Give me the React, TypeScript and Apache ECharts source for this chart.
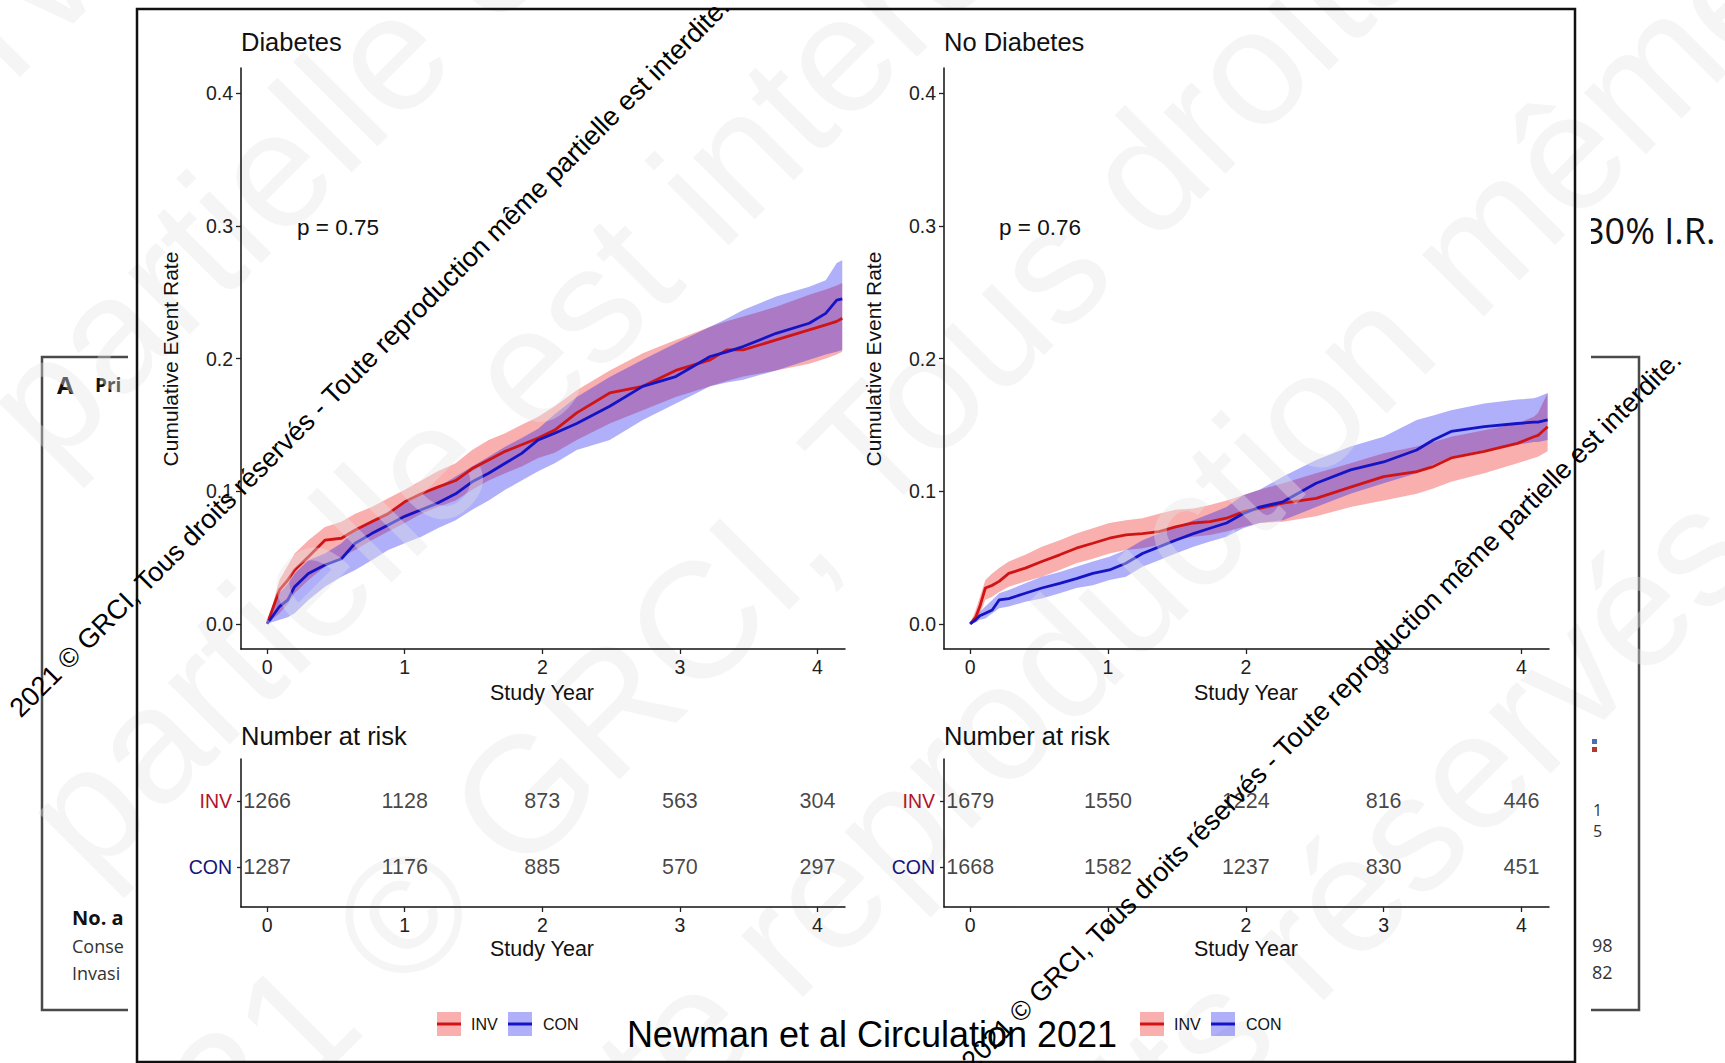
import React, { useEffect, useRef } from 'react';
import * as echarts from 'echarts';

const FONT = 'Liberation Sans, Arial, sans-serif';
const SLIDE_FONT = 'Open Sans, Liberation Sans, sans-serif';

// ---------- Diabetes panel (years, cumulative event rate) ----------
const yearsDiab = [0, 0.09, 0.15, 0.2, 0.3, 0.42, 0.54, 0.64, 0.76, 0.88, 1.0, 1.12, 1.24, 1.37, 1.49, 1.61, 1.73, 1.85, 1.97, 2.09, 2.25, 2.49, 2.73, 2.97, 3.22, 3.34, 3.46, 3.7, 3.94, 4.06, 4.14, 4.18];
const invDiab = [0, 0.0255, 0.033, 0.0406, 0.0506, 0.063, 0.0645, 0.0707, 0.077, 0.083, 0.092, 0.098, 0.103, 0.108, 0.117, 0.1235, 0.13, 0.135, 0.14, 0.146, 0.159, 0.174, 0.179, 0.191, 0.199, 0.2065, 0.2065, 0.214, 0.2216, 0.2253, 0.228, 0.2304];
const invDiabHi = [0, 0.033, 0.044, 0.053, 0.063, 0.073, 0.077, 0.083, 0.088, 0.0946, 0.101, 0.108, 0.115, 0.121, 0.131, 0.1386, 0.1437, 0.15, 0.156, 0.164, 0.176, 0.191, 0.204, 0.214, 0.224, 0.228, 0.2316, 0.239, 0.248, 0.252, 0.255, 0.257];
const invDiabLo = [0, 0.008, 0.015, 0.023, 0.033, 0.043, 0.0506, 0.0557, 0.063, 0.0695, 0.076, 0.083, 0.088, 0.093, 0.101, 0.108, 0.1135, 0.1185, 0.125, 0.129, 0.1386, 0.151, 0.161, 0.171, 0.179, 0.183, 0.1864, 0.191, 0.196, 0.2, 0.203, 0.205];
const conDiab = [0, 0.013, 0.018, 0.028, 0.038, 0.0443, 0.049, 0.0607, 0.068, 0.0745, 0.081, 0.086, 0.091, 0.098, 0.107, 0.1135, 0.121, 0.1285, 0.1386, 0.1437, 0.151, 0.164, 0.179, 0.1864, 0.2015, 0.205, 0.209, 0.219, 0.2266, 0.234, 0.244, 0.245];
const conDiabHi = [0, 0.023, 0.03, 0.038, 0.048, 0.053, 0.0607, 0.0707, 0.078, 0.0845, 0.091, 0.097, 0.103, 0.111, 0.1185, 0.126, 0.1335, 0.14, 0.147, 0.158, 0.171, 0.186, 0.199, 0.2115, 0.224, 0.23, 0.2366, 0.2467, 0.254, 0.259, 0.272, 0.274];
const conDiabLo = [0, 0.003, 0.005, 0.008, 0.018, 0.028, 0.0355, 0.0406, 0.048, 0.0557, 0.0607, 0.0657, 0.072, 0.078, 0.086, 0.093, 0.101, 0.108, 0.115, 0.121, 0.131, 0.1386, 0.1537, 0.166, 0.179, 0.182, 0.184, 0.191, 0.199, 0.203, 0.205, 0.2065];

// ---------- No Diabetes panel ----------
const yearsNoDiab = [0, 0.04, 0.07, 0.11, 0.16, 0.21, 0.28, 0.4, 0.52, 0.65, 0.77, 0.89, 1.01, 1.13, 1.25, 1.37, 1.49, 1.62, 1.74, 1.86, 1.98, 2.1, 2.27, 2.51, 2.76, 3.0, 3.24, 3.36, 3.49, 3.73, 3.97, 4.09, 4.12, 4.19];
const invNoDiab = [0, 0.005, 0.013, 0.027, 0.029, 0.032, 0.038, 0.042, 0.047, 0.052, 0.057, 0.0607, 0.0645, 0.067, 0.068, 0.0695, 0.073, 0.076, 0.077, 0.0796, 0.0845, 0.087, 0.091, 0.0946, 0.103, 0.111, 0.1147, 0.1185, 0.125, 0.13, 0.136, 0.141, 0.142, 0.1486];
const invNoDiabHi = [0, 0.0104, 0.02, 0.033, 0.038, 0.042, 0.047, 0.052, 0.058, 0.063, 0.068, 0.072, 0.076, 0.078, 0.0796, 0.083, 0.086, 0.087, 0.0896, 0.093, 0.097, 0.101, 0.106, 0.1135, 0.121, 0.1286, 0.1336, 0.137, 0.141, 0.146, 0.151, 0.156, 0.159, 0.174];
const invNoDiabLo = [0, 0.002, 0.008, 0.018, 0.0204, 0.024, 0.028, 0.0318, 0.0355, 0.0406, 0.0456, 0.049, 0.053, 0.0557, 0.057, 0.0594, 0.063, 0.0657, 0.067, 0.0695, 0.073, 0.076, 0.077, 0.081, 0.088, 0.093, 0.098, 0.102, 0.107, 0.1135, 0.121, 0.125, 0.126, 0.13];
const conNoDiab = [0, 0.003, 0.006, 0.008, 0.0104, 0.018, 0.019, 0.023, 0.027, 0.0305, 0.034, 0.038, 0.0406, 0.0456, 0.053, 0.058, 0.063, 0.068, 0.072, 0.076, 0.083, 0.088, 0.092, 0.106, 0.116, 0.122, 0.131, 0.1386, 0.145, 0.1486, 0.151, 0.152, 0.152, 0.1537];
const conNoDiabHi = [0, 0.004, 0.009, 0.013, 0.018, 0.023, 0.0255, 0.0305, 0.0355, 0.039, 0.043, 0.047, 0.0506, 0.0557, 0.063, 0.068, 0.073, 0.078, 0.083, 0.088, 0.097, 0.101, 0.111, 0.1235, 0.1336, 0.141, 0.1537, 0.157, 0.161, 0.166, 0.169, 0.17, 0.171, 0.174];
const conNoDiabLo = [0, 0.001, 0.003, 0.004, 0.008, 0.0117, 0.013, 0.0167, 0.019, 0.023, 0.027, 0.029, 0.033, 0.0355, 0.043, 0.048, 0.053, 0.058, 0.062, 0.0657, 0.072, 0.076, 0.078, 0.088, 0.098, 0.106, 0.1135, 0.12, 0.126, 0.131, 0.135, 0.137, 0.137, 0.1386];

// ---------- Number at risk ----------
const riskYears = [0, 1, 2, 3, 4];
const riskDiabInv = [1266, 1128, 873, 563, 304];
const riskDiabCon = [1287, 1176, 885, 570, 297];
const riskNoDiabInv = [1679, 1550, 1224, 816, 446];
const riskNoDiabCon = [1668, 1582, 1237, 830, 451];

// ---------- Ticks and labels ----------
const xTicks = [0, 1, 2, 3, 4];
const yTicks = [0, 0.1, 0.2, 0.3, 0.4];
const riskRowTicks = [0, 1]; // 0 = CON, 1 = INV
const panelTitles = ['Diabetes', 'No Diabetes'];
const pValues = ['p = 0.75', 'p = 0.76'];
const groupNames = ['INV', 'CON'];
const WATERMARK = '2021 © GRCI, Tous droits réservés - Toute reproduction même partielle est interdite.';

const INV_LINE = '#D01414';
const CON_LINE = '#1414C4';
const INV_BAND = 'rgba(240,20,20,0.34)';
const CON_BAND = 'rgba(20,20,240,0.34)';

const PANEL_DX = 703;

function bandSeries(name: string, axisIdx: number, xs: number[], lo: number[], hi: number[], color: string) {
  return {
    type: 'custom',
    name,
    xAxisIndex: axisIdx,
    yAxisIndex: axisIdx,
    z: 2,
    silent: true,
    data: xs.map((x, i) => [x, lo[i], hi[i]]),
    encode: { x: 0, y: [1, 2] },
    renderItem: (params: any, api: any) => {
      if (params.dataIndexInside !== 0) return null;
      const n = params.dataInsideLength;
      const top: number[][] = [];
      const bot: number[][] = [];
      for (let j = 0; j < n; j++) {
        top.push(api.coord([api.value(0, j), api.value(2, j)]));
        bot.push(api.coord([api.value(0, j), api.value(1, j)]));
      }
      return {
        type: 'polygon',
        shape: { points: top.concat(bot.reverse()) },
        style: { fill: color },
      };
    },
  };
}

function lineSeries(name: string, axisIdx: number, xs: number[], ys: number[], color: string) {
  return {
    type: 'line',
    name,
    xAxisIndex: axisIdx,
    yAxisIndex: axisIdx,
    z: 2,
    silent: true,
    showSymbol: false,
    symbol: 'none',
    data: xs.map((x, i) => [x, ys[i]]),
    lineStyle: { color, width: 2.8 },
  };
}

function riskSeries(axisIdx: number, row: number, vals: number[]) {
  return {
    type: 'scatter',
    xAxisIndex: axisIdx,
    yAxisIndex: axisIdx,
    z: 6,
    silent: true,
    symbolSize: 2,
    itemStyle: { color: 'rgba(0,0,0,0)' },
    data: riskYears.map((x, i) => [x, row, vals[i]]),
    label: {
      show: true,
      position: 'inside',
      formatter: (p: any) => String(p.value[2]),
      fontSize: 21.5,
      color: '#151515',
      fontFamily: FONT,
    },
  };
}

function txt(text: string, x: number, y: number, o: any = {}) {
  const align = o.align || 'left';
  const valign = o.valign || 'middle';
  return {
    type: 'text',
    x,
    y,
    z: o.z ?? 7,
    rotation: o.rotation || 0,
    silent: true,
    style: {
      text,
      fill: o.fill || '#111',
      fontSize: o.size || 20,
      fontFamily: o.family || FONT,
      fontWeight: o.weight || 'normal',
      align,
      verticalAlign: valign,
      textAlign: align,
      textVerticalAlign: valign,
    },
  };
}

const axisLineStyle = { show: true, onZero: false, lineStyle: { color: '#111', width: 1.5 } };
const tickStyle = (vals: number[], len = 5) => ({
  show: true,
  customValues: vals,
  length: len,
  inside: false,
  lineStyle: { color: '#222', width: 1.3 },
});

function buildOption() {
  const grids = [
    { left: 241, top: 68, width: 604, height: 581 },
    { left: 944, top: 68, width: 605, height: 581 },
    { left: 241, top: 759, width: 604, height: 148 },
    { left: 944, top: 759, width: 605, height: 148 },
  ];

  const xAxis = grids.map((_, g) => ({
    type: 'value',
    gridIndex: g,
    min: -0.19,
    max: 4.2,
    z: 6,
    axisLine: axisLineStyle,
    axisTick: tickStyle(xTicks),
    axisLabel: {
      customValues: xTicks,
      fontSize: 19.5,
      color: '#222',
      margin: 8,
      fontFamily: FONT,
    },
    splitLine: { show: false },
  }));

  const yAxis = grids.map((_, g) =>
    g < 2
      ? {
          type: 'value',
          gridIndex: g,
          min: -0.019,
          max: 0.419,
          z: 6,
          axisLine: axisLineStyle,
          axisTick: tickStyle(yTicks),
          axisLabel: {
            customValues: yTicks,
            formatter: (v: number) => v.toFixed(1),
            fontSize: 19.5,
            color: '#222',
            margin: 8,
            fontFamily: FONT,
          },
          splitLine: { show: false },
        }
      : {
          type: 'value',
          gridIndex: g,
          min: -0.606,
          max: 1.636,
          z: 6,
          axisLine: axisLineStyle,
          axisTick: tickStyle(riskRowTicks, 4),
          axisLabel: {
            customValues: riskRowTicks,
            formatter: (v: number) => (v >= 0.5 ? '{inv|' + groupNames[0] + '}' : '{con|' + groupNames[1] + '}'),
            margin: 9,
            rich: {
              inv: { color: '#B0142C', fontSize: 19.5, fontFamily: FONT },
              con: { color: '#141478', fontSize: 19.5, fontFamily: FONT },
            },
          },
          splitLine: { show: false },
        }
  );

  const series: any[] = [
    bandSeries('INV band', 0, yearsDiab, invDiabLo, invDiabHi, INV_BAND),
    lineSeries('INV', 0, yearsDiab, invDiab, INV_LINE),
    bandSeries('CON band', 0, yearsDiab, conDiabLo, conDiabHi, CON_BAND),
    lineSeries('CON', 0, yearsDiab, conDiab, CON_LINE),
    bandSeries('INV band', 1, yearsNoDiab, invNoDiabLo, invNoDiabHi, INV_BAND),
    lineSeries('INV', 1, yearsNoDiab, invNoDiab, INV_LINE),
    bandSeries('CON band', 1, yearsNoDiab, conNoDiabLo, conNoDiabHi, CON_BAND),
    lineSeries('CON', 1, yearsNoDiab, conNoDiab, CON_LINE),
    riskSeries(2, 1, riskDiabInv),
    riskSeries(2, 0, riskDiabCon),
    riskSeries(3, 1, riskNoDiabInv),
    riskSeries(3, 0, riskNoDiabCon),
  ];

  const g: any[] = [];

  // ---- background slide (behind the figure) ----
  g.push({ type: 'rect', z: 0, silent: true, shape: { x: 42, y: 357, width: 200, height: 653 }, style: { fill: '#fff', stroke: '#4a4a4a', lineWidth: 2.5 } });
  g.push(txt('A', 57, 384, { size: 24, weight: 'bold', family: SLIDE_FONT, z: 0, fill: '#111' }));
  g.push(txt('Pri', 95, 385, { size: 19, weight: 'bold', family: SLIDE_FONT, z: 0, fill: '#111' }));
  g.push(txt('No. a', 72, 917, { size: 20, weight: 'bold', family: SLIDE_FONT, z: 0, fill: '#111' }));
  g.push(txt('Conse', 72, 946, { size: 18, family: SLIDE_FONT, z: 0, fill: '#333' }));
  g.push(txt('Invasi', 72, 973, { size: 18, family: SLIDE_FONT, z: 0, fill: '#333' }));
  g.push({ type: 'rect', z: 0, silent: true, shape: { x: 1540, y: 357, width: 99, height: 653 }, style: { fill: '#fff', stroke: '#4a4a4a', lineWidth: 2.5 } });
  g.push(txt('30% I.R.', 1584, 230, { size: 36, family: SLIDE_FONT, z: 0, fill: '#111' }));
  g.push(txt('1', 1593, 810, { size: 16, family: SLIDE_FONT, z: 0, fill: '#333' }));
  g.push(txt('5', 1593, 831, { size: 16, family: SLIDE_FONT, z: 0, fill: '#333' }));
  g.push(txt('98', 1592, 945, { size: 18, family: SLIDE_FONT, z: 0, fill: '#333' }));
  g.push(txt('82', 1592, 972, { size: 18, family: SLIDE_FONT, z: 0, fill: '#333' }));
  g.push({ type: 'rect', z: 0, silent: true, shape: { x: 1592, y: 739, width: 5, height: 5 }, style: { fill: '#4a6fb0' } });
  g.push({ type: 'rect', z: 0, silent: true, shape: { x: 1592, y: 747, width: 5, height: 5 }, style: { fill: '#b03a2e' } });

  // ---- white figure area and its frame ----
  g.push({ type: 'rect', z: 1, silent: true, shape: { x: 128, y: 0, width: 1463, height: 1063 }, style: { fill: '#fff' } });
  g.push({ type: 'rect', z: 7, silent: true, shape: { x: 137, y: 9, width: 1438, height: 1053 }, style: { fill: 'none', stroke: '#111', lineWidth: 2.5 } });

  // ---- panel texts ----
  [0, 1].forEach((k) => {
    const dx = k * PANEL_DX;
    g.push(txt(panelTitles[k], 241 + dx, 42, { size: 25.5 }));
    g.push(txt('Cumulative Event Rate', 170 + dx, 359, { size: 21, align: 'center', rotation: Math.PI / 2 }));
    g.push(txt(pValues[k], 297 + dx + (k ? -1 : 0), 227, { size: 22.5 }));
    g.push(txt('Study Year', 542 + dx + (k ? 1 : 0), 693, { size: 21.5, align: 'center' }));
    g.push(txt('Number at risk', 241 + dx, 736, { size: 25.5 }));
    g.push(txt('Study Year', 542 + dx + (k ? 1 : 0), 949, { size: 21.5, align: 'center' }));
    // legend
    const lx = 437 + dx;
    g.push({ type: 'rect', z: 7, silent: true, shape: { x: lx, y: 1012, width: 24, height: 24 }, style: { fill: INV_BAND } });
    g.push({ type: 'line', z: 7, silent: true, shape: { x1: lx, y1: 1024, x2: lx + 24, y2: 1024 }, style: { stroke: INV_LINE, lineWidth: 3 } });
    g.push(txt(groupNames[0], lx + 34, 1024, { size: 16 }));
    g.push({ type: 'rect', z: 7, silent: true, shape: { x: lx + 71, y: 1012, width: 24, height: 24 }, style: { fill: CON_BAND } });
    g.push({ type: 'line', z: 7, silent: true, shape: { x1: lx + 71, y1: 1024, x2: lx + 95, y2: 1024 }, style: { stroke: CON_LINE, lineWidth: 3 } });
    g.push(txt(groupNames[1], lx + 106, 1024, { size: 16 }));
  });

  g.push(txt('Newman et al Circulation 2021', 872, 1034, { size: 36, align: 'center', fill: '#000' }));

  // ---- faint large watermark ----
  const faint = 'rgba(228,228,228,0.38)';
  const R = Math.PI / 4;
  const bigWm = [
    { t: 'réservés - Toute', x: -197, y: 330 },
    { t: 'partielle est interdite', x: 70, y: 490 },
    { t: 'partielle est interdite', x: 110, y: 900 },
    { t: '2021 © GRCI, Tous droits', x: 127, y: 1308 },
    { t: '- Toute reproduction même partielle', x: 426, y: 1410 },
    { t: 'droits réservés - Toute', x: 1016, y: 1344 },
  ];
  bigWm.forEach((w) => g.push(txt(w.t, w.x, w.y, { size: 165, fill: faint, rotation: R, valign: 'bottom', z: 5 })));

  // ---- black diagonal watermarks ----
  g.push(txt(WATERMARK, 24, 722, { size: 27, fill: '#000', rotation: R, valign: 'bottom', z: 10 }));
  g.push(txt(WATERMARK, 976, 1075, { size: 27, fill: '#000', rotation: R, valign: 'bottom', z: 10 }));

  return {
    animation: false,
    backgroundColor: '#fff',
    textStyle: { fontFamily: FONT },
    grid: grids,
    xAxis,
    yAxis,
    series,
    graphic: { elements: g },
  };
}

export default function App() {
  const ref = useRef<HTMLDivElement>(null);
  useEffect(() => {
    document.body.style.margin = '0';
    const chart = echarts.init(ref.current as HTMLDivElement, undefined, { renderer: 'svg' });
    chart.setOption(buildOption() as any);
    return () => chart.dispose();
  }, []);
  return <div ref={ref} style={{ width: 1725, height: 1063, background: '#fff' }} />;
}
